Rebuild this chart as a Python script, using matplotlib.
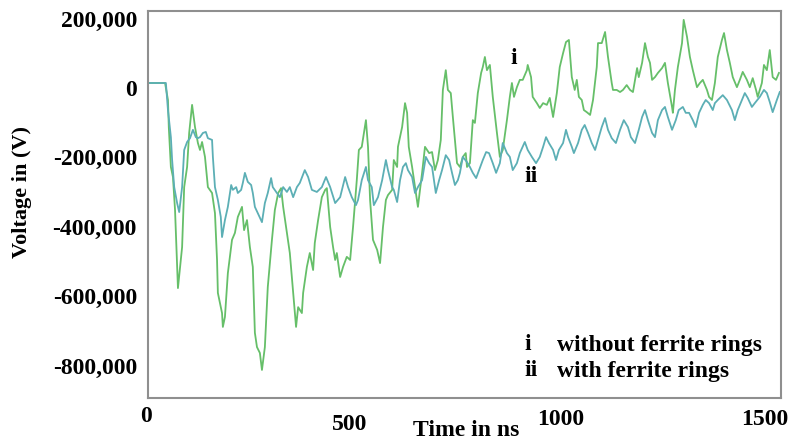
import matplotlib
matplotlib.use("Agg")
import matplotlib.pyplot as plt
import matplotlib.transforms as mtransforms

# voltage traces (time in ns, voltage in kV)
t_i = [0, 41, 48, 50, 55, 60, 65, 72, 82, 87,
       94, 99, 106, 113, 120, 125, 130, 137, 144, 154,
       161, 166, 168, 178, 180, 185, 192, 202, 209, 216,
       226, 231, 238, 245, 252, 257, 262, 269, 274, 281,
       288, 298, 305, 313, 320, 325, 334, 341, 349, 356,
       361, 370, 373, 382, 389, 397, 401, 409, 418, 426,
       430, 438, 445, 450, 454, 462, 469, 478, 486, 493,
       502, 507, 514, 524, 529, 534, 541, 551, 558, 565,
       572, 577, 587, 591, 599, 601, 611, 618, 623, 627,
       635, 642, 649, 659, 666, 671, 676, 683, 690, 697,
       704, 709, 716, 721, 728, 733, 743, 750, 757, 764,
       767, 774, 781, 786, 793, 801, 805, 810, 815, 822,
       829, 839, 846, 853, 863, 870, 875, 880, 887, 894,
       901, 911, 913, 921, 925, 935, 942, 950, 959, 966,
       974, 983, 990, 998, 1005, 1012, 1019, 1026, 1031, 1036,
       1043, 1048, 1055, 1063, 1070, 1079, 1082, 1091, 1099, 1106,
       1115, 1118, 1127, 1135, 1142, 1151, 1159, 1166, 1176, 1180,
       1188, 1195, 1202, 1207, 1212, 1219, 1226, 1236, 1243, 1250,
       1260, 1262, 1267, 1274, 1284, 1288, 1296, 1303, 1310, 1320,
       1327, 1334, 1344, 1349, 1356, 1363, 1370, 1380, 1385, 1392,
       1399, 1406, 1416, 1423, 1430, 1440, 1447, 1454, 1462, 1466,
       1476, 1481, 1488, 1495, 1502, 1510, 1517]
v_i = [0, 0, -49, -127, -242, -271, -366, -591, -473, -300,
       -242, -144, -63, -127, -173, -193, -170, -213, -300, -317,
       -375, -510, -605, -663, -703, -674, -548, -452, -432, -386,
       -357, -424, -395, -473, -530, -720, -761, -778, -827, -761,
       -588, -452, -366, -317, -303, -357, -432, -490, -605, -703,
       -646, -663, -605, -530, -490, -539, -461, -395, -329, -308,
       -303, -415, -473, -510, -490, -559, -530, -501, -510, -415,
       -280, -193, -184, -107, -184, -337, -452, -481, -519, -415,
       -337, -323, -308, -222, -242, -184, -127, -58, -86, -184,
       -242, -300, -357, -259, -184, -193, -202, -199, -251, -222,
       -164, -20, 37, -20, -29, -98, -231, -242, -213, -202,
       -242, -231, -107, -115, -29, 29, 46, 75, 37, 52,
       -40, -144, -213, -193, -107, -40, 0, -40, -12, 9,
       9, 37, 52, 17, -40, -58, -72, -58, -63, -43,
       -98, -29, 46, 86, 118, 124, 17, -20, 9, -40,
       -49, -78, -84, -92, -49, 46, 115, 115, 147, 75,
       0, -20, -20, -26, -20, -6, -20, -26, 43, 17,
       58, 115, 75, 58, 9, 17, 29, 43, 58, 0,
       -69, -86, -20, 46, 115, 182, 133, 75, 37, -12,
       0, 9, -20, -40, -49, 0, 75, 124, 144, 95,
       58, 17, -12, 9, 32, 9, -12, 14, -20, -40,
       0, 52, 37, 95, 17, 9, 29]

t_ii = [0, 43, 48, 55, 58, 63, 70, 75, 82, 87,
        94, 101, 108, 115, 120, 125, 132, 139, 144, 154,
        156, 161, 168, 175, 178, 185, 192, 200, 204, 212,
        216, 224, 228, 233, 240, 248, 252, 257, 264, 274,
        281, 288, 296, 300, 310, 317, 325, 334, 341, 349,
        358, 365, 377, 385, 394, 406, 418, 428, 438, 450,
        462, 474, 481, 490, 500, 505, 514, 524, 529, 538,
        543, 553, 563, 572, 577, 587, 591, 599, 606, 613,
        620, 625, 635, 642, 649, 659, 668, 676, 683, 692,
        700, 707, 716, 724, 731, 738, 745, 750, 757, 767,
        774, 781, 789, 796, 805, 813, 820, 829, 837, 846,
        853, 863, 870, 877, 887, 894, 906, 913, 923, 933,
        942, 950, 957, 964, 974, 981, 988, 998, 1005, 1010,
        1019, 1024, 1034, 1043, 1050, 1058, 1067, 1075, 1082, 1091,
        1099, 1106, 1115, 1125, 1135, 1144, 1154, 1161, 1171, 1180,
        1188, 1195, 1202, 1212, 1219, 1226, 1236, 1243, 1250, 1260,
        1269, 1276, 1286, 1293, 1301, 1310, 1317, 1325, 1334, 1341,
        1349, 1358, 1363, 1370, 1382, 1392, 1404, 1411, 1418, 1428,
        1435, 1442, 1452, 1459, 1471, 1481, 1488, 1495, 1502, 1512,
        1519]
v_ii = [0, 0, -78, -156, -222, -300, -346, -372, -300, -193,
        -170, -159, -135, -156, -159, -156, -144, -141, -159, -164,
        -213, -300, -337, -386, -444, -395, -357, -294, -308, -300,
        -317, -308, -288, -259, -285, -294, -317, -357, -375, -401,
        -346, -317, -274, -300, -317, -329, -300, -314, -300, -329,
        -300, -288, -251, -271, -308, -314, -300, -271, -300, -346,
        -329, -271, -300, -329, -352, -337, -280, -242, -280, -300,
        -352, -329, -280, -222, -251, -300, -308, -343, -280, -242,
        -231, -251, -271, -317, -300, -280, -213, -231, -242, -317,
        -280, -251, -208, -222, -259, -294, -280, -259, -213, -228,
        -242, -259, -274, -251, -222, -199, -202, -231, -259, -231,
        -173, -202, -213, -251, -231, -202, -170, -193, -213, -231,
        -213, -184, -156, -173, -193, -222, -193, -173, -135, -156,
        -184, -202, -173, -135, -121, -144, -173, -193, -164, -127,
        -101, -135, -159, -173, -135, -107, -127, -156, -173, -135,
        -98, -78, -107, -144, -156, -107, -78, -69, -98, -135,
        -107, -78, -69, -86, -86, -107, -127, -86, -63, -49,
        -58, -78, -58, -49, -35, -49, -78, -107, -78, -49,
        -29, -43, -69, -58, -40, -20, -29, -55, -84, -49,
        -26]

x_ticks = [0, 500, 1000, 1500]
y_ticks = [200000, 0, -200000, -400000, -600000, -800000]
y_labels = ["200,000", "0", "-200,000", "-400,000", "-600,000", "-800,000"]

W, H = 803, 443
fig = plt.figure(figsize=(W / 100, H / 100), dpi=100)
ax = fig.add_axes([148 / W, 1 - 398 / H, (781 - 148) / W, (398 - 11) / H])

font = {"family": "Liberation Serif", "weight": "bold"}


def shift(artist, dx, dy):
    # nudge a text artist by dx, dy pixels (dy > 0 moves down)
    artist.set_transform(artist.get_transform()
                         + mtransforms.ScaledTranslation(dx / 100, -dy / 100, fig.dpi_scale_trans))


ax.plot(t_i, [v * 1000 for v in v_i], color="#66bf69", lw=1.3)
ax.plot(t_ii, [v * 1000 for v in v_ii], color="#5cafb5", lw=1.3)

ax.set_xlim(0, 1522)
ax.set_ylim(-907800, 207500)

ax.set_xticks(x_ticks)
ax.set_xticklabels([str(x) for x in x_ticks], fontdict=dict(font, size=17))
ax.set_yticks(y_ticks)
ax.set_yticklabels(y_labels, fontdict=dict(font, size=17))
ax.tick_params(axis="both", length=0)
ax.tick_params(axis="y", pad=8)
ax.tick_params(axis="x", pad=6)

# tick labels in the original are not quite centred on their ticks
for lab in ax.get_yticklabels():
    shift(lab, 0, 5)
for lab, dx, dy in zip(ax.get_xticklabels(), [-2, -6, -3, -7], [0, 8, 3, 3]):
    shift(lab, dx, dy)

for s in ax.spines.values():
    s.set_color("#8f8f8f")
    s.set_linewidth(1.5)

fig.text(22 / W, 1 - 192 / H, "Voltage in (V)", rotation=90, ha="center", va="center", fontdict=dict(font, size=16))
fig.text(466 / W, 1 - 441 / H, "Time in ns", ha="center", va="bottom", fontdict=dict(font, size=17))

# curve markers and legend text
fig.text(514 / W, 1 - 59 / H, "i", ha="center", va="center", fontdict=dict(font, size=17))
fig.text(531 / W, 1 - 177 / H, "ii", ha="center", va="center", fontdict=dict(font, size=17))
fig.text(524 / W, 1 - 345 / H, "i", ha="left", va="center", fontdict=dict(font, size=17))
fig.text(557 / W, 1 - 345 / H, "without ferrite rings", ha="left", va="center", fontdict=dict(font, size=17))
fig.text(524 / W, 1 - 371 / H, "ii", ha="left", va="center", fontdict=dict(font, size=17))
fig.text(557 / W, 1 - 371 / H, "with ferrite rings", ha="left", va="center", fontdict=dict(font, size=17))

fig.savefig("out.png", dpi=100)
